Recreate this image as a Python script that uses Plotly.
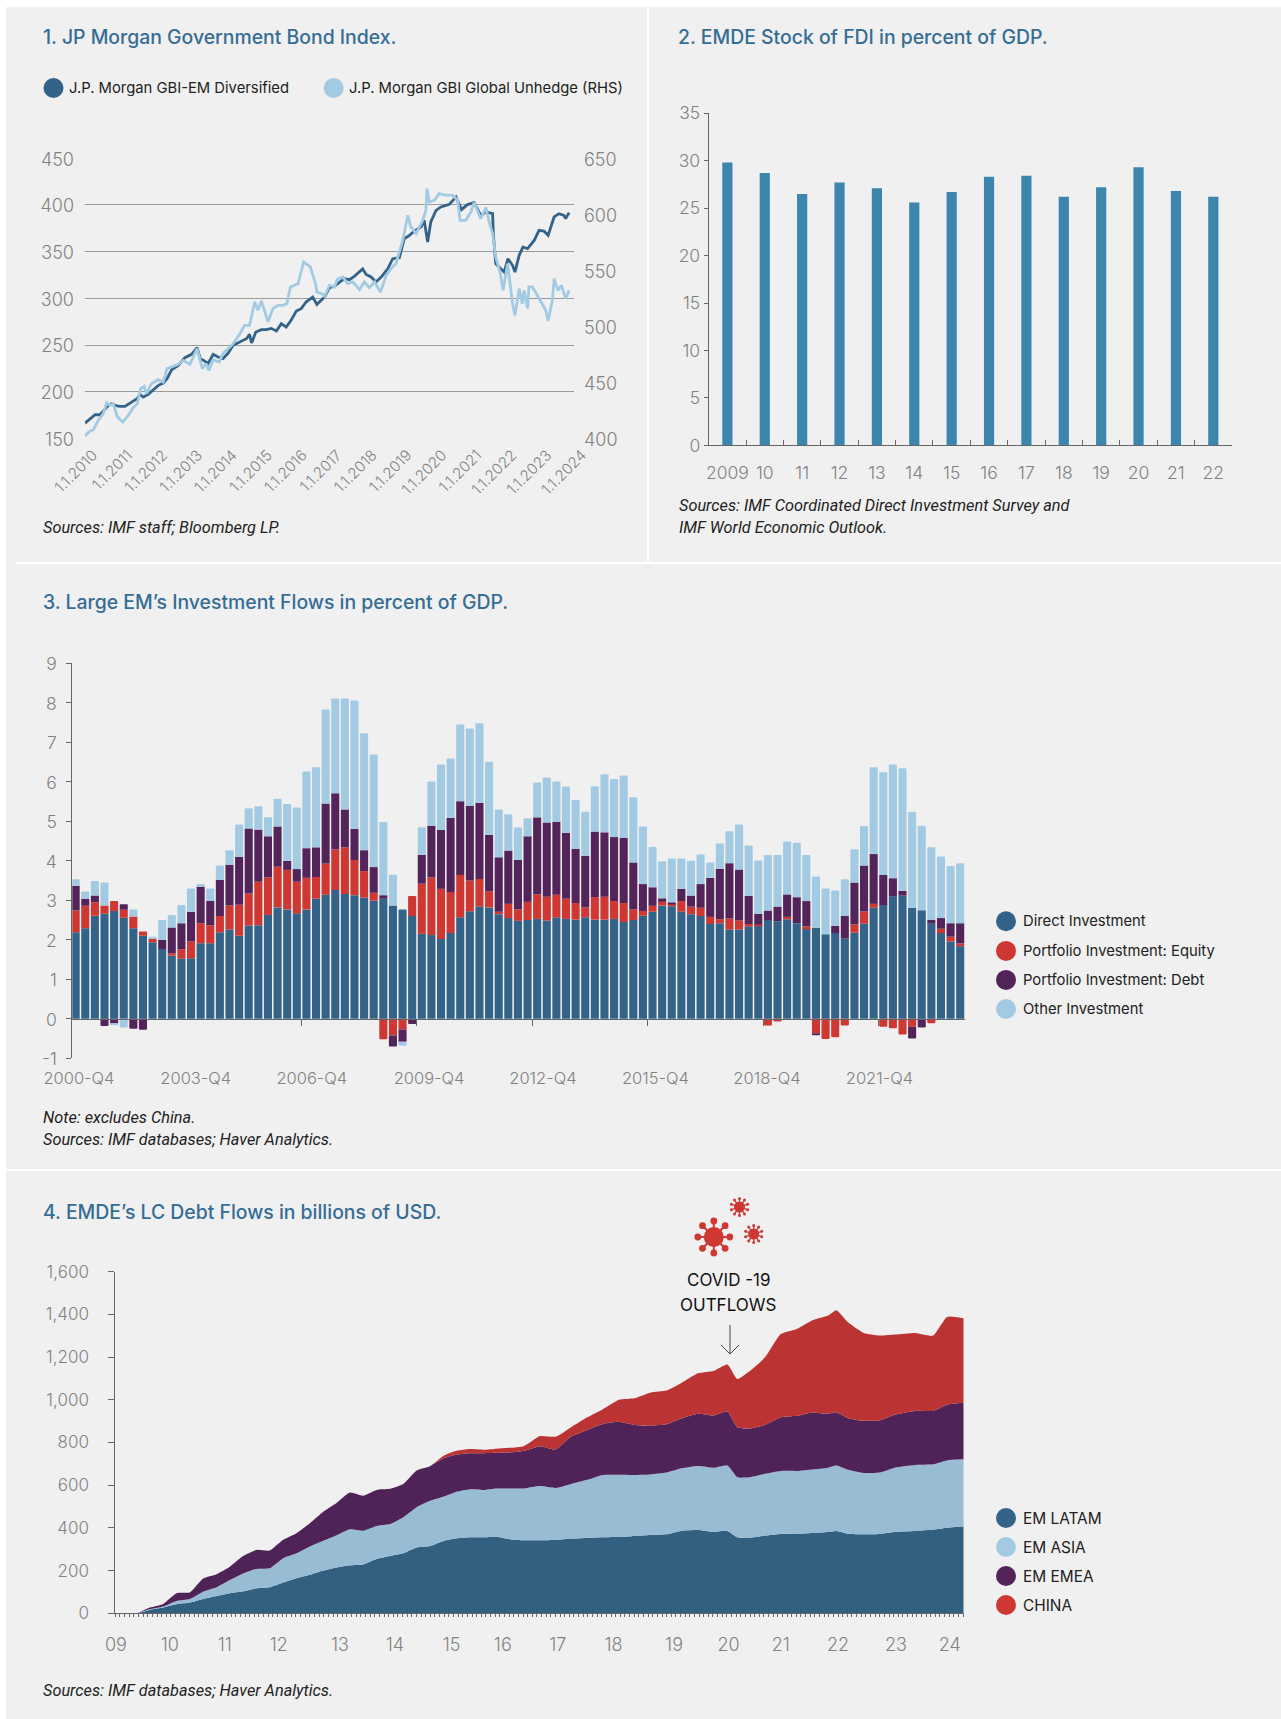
import math
import plotly.graph_objects as go

W, H = 1281, 1719

# ---------- Chart 1 data ----------
gbi_em_years = [2010.00,2010.14,2010.29,2010.43,2010.57,2010.67,2010.76,2010.89,2011.00,2011.14,2011.29,2011.50,2011.57,2011.67,2011.81,2011.95,2012.10,2012.24,2012.35,2012.48,2012.67,2012.86,2013.05,2013.21,2013.30,2013.43,2013.52,2013.67,2013.81,2013.95,2014.10,2014.24,2014.43,2014.62,2014.71,2014.77,2014.89,2015.05,2015.19,2015.33,2015.48,2015.62,2015.76,2015.90,2016.05,2016.19,2016.33,2016.52,2016.64,2016.86,2017.00,2017.14,2017.29,2017.43,2017.57,2017.71,2017.95,2018.05,2018.19,2018.33,2018.48,2018.67,2018.81,2019.00,2019.14,2019.29,2019.43,2019.62,2019.71,2019.81,2019.90,2020.05,2020.19,2020.43,2020.62,2020.78,2020.95,2021.14,2021.33,2021.48,2021.67,2021.69,2021.76,2021.90,2022.00,2022.11,2022.24,2022.31,2022.43,2022.54,2022.67,2022.86,2023.00,2023.14,2023.26,2023.43,2023.57,2023.71,2023.76,2023.86]
gbi_em = [166.4,170.7,175.3,175.3,180.7,185.3,187.1,185,184.3,184.3,187.8,192.8,197.1,194.3,197.1,201.4,206.8,209.3,213.9,223.5,228.2,236.4,240,247.1,235.3,232.8,230,240,237.1,235.3,241.4,249.6,253.2,256.7,261.4,252.1,263.9,266.4,266.4,267.8,265,272.8,269.2,276.4,286.4,288.9,296,301.4,293.5,301.4,311.4,312.8,317.4,321,319.9,323.5,331.4,325.6,322.8,317.4,322.8,331.7,342.4,343.5,363.8,367.4,372,376.3,383.5,360.3,381.7,394.2,397.8,400.6,408.5,394.9,400.3,402.4,388.8,392.4,390.6,369.2,337.1,331.7,328.1,342.4,335.3,328.1,346,354.9,353.1,362,372.8,372,367.4,387.1,390.6,388.8,385.3,391.7]
gbi_gl_years = [2010.00,2010.10,2010.24,2010.38,2010.52,2010.62,2010.71,2010.81,2010.92,2011.08,2011.24,2011.38,2011.50,2011.59,2011.69,2011.76,2011.90,2012.10,2012.24,2012.35,2012.48,2012.67,2012.81,2013.00,2013.21,2013.36,2013.46,2013.55,2013.67,2013.84,2013.95,2014.24,2014.43,2014.57,2014.71,2014.86,2014.95,2015.05,2015.24,2015.38,2015.52,2015.67,2015.78,2015.88,2016.10,2016.26,2016.45,2016.60,2016.64,2016.81,2016.86,2017.00,2017.14,2017.22,2017.38,2017.52,2017.67,2017.86,2018.00,2018.14,2018.29,2018.46,2018.62,2018.76,2018.90,2019.10,2019.24,2019.33,2019.48,2019.67,2019.76,2019.79,2019.86,2020.00,2020.14,2020.33,2020.52,2020.67,2020.74,2020.90,2021.05,2021.14,2021.33,2021.48,2021.57,2021.67,2021.76,2021.89,2021.97,2022.10,2022.24,2022.31,2022.43,2022.52,2022.57,2022.67,2022.71,2022.81,2022.95,2023.05,2023.19,2023.26,2023.38,2023.43,2023.54,2023.64,2023.76,2023.86]
gbi_gl = [401.8,405.7,407.7,416.1,422,431.8,429.5,431,419.6,414.6,420.5,427.4,431,444.3,446.4,439.9,448.8,452.4,450.3,462.2,463.7,466.1,469.6,466.1,480.1,462.2,466.7,460.7,470.2,468.2,475.6,484.5,492.9,500.9,500.9,521.7,514.3,522.6,503.9,515.8,518.7,518.7,520.2,535.1,538.1,557.4,553,538.1,530.6,528.6,526.8,536.6,535.1,541.7,544,538.1,539.6,532.7,539.6,534.5,539.6,530.6,545.5,551.5,555.9,576.8,599.1,588.7,582.7,594.6,603.6,622.9,611,612.5,618.4,617,617,612.5,594.6,594.6,602.1,610.4,596.1,605.9,593.1,582.7,561.9,547,532.1,555.9,520.2,509.8,533.6,520.2,532.1,515.8,535.1,535.1,527.7,521.7,514.3,504.8,523.2,542.6,532.1,536.6,524.7,532.1]
year_ticks = [2010 + i for i in range(15)]
year_labels = ["1.1.%d" % y for y in year_ticks]

# ---------- Chart 2 data ----------
fdi_years = ["2009","10","11","12","13","14","15","16","17","18","19","20","21","22"]
fdi_stock = [29.8,28.7,26.5,27.7,27.1,25.6,26.7,28.3,28.4,26.2,27.2,29.3,26.8,26.2]

# ---------- Chart 3 data ----------
quarter_index = list(range(93))
q_tick_pos = [0.34,12.49,24.56,36.76,48.6,60.3,71.9,83.6]
q_tick_labels = ["2000-Q4","2003-Q4","2006-Q4","2009-Q4","2012-Q4","2015-Q4","2018-Q4","2021-Q4"]
q_tick_marks = [23.5,35.5,47.5,59.5,71.5,83.5]
flow_ticks = [-1,0,1,2,3,4,5,6,7,8,9]
flow_tick_labels = ["-1","0","1","2","3","4","5","6","7","8","9"]
direct = [2.19,2.29,2.61,2.66,2.73,2.56,2.29,2.10,1.94,1.77,1.60,1.52,1.53,1.91,1.91,2.19,2.26,2.10,2.36,2.37,2.63,2.82,2.77,2.67,2.77,3.04,3.14,3.26,3.16,3.13,3.07,2.99,3.04,2.87,2.77,2.60,2.15,2.12,2.02,2.17,2.57,2.72,2.84,2.82,2.65,2.55,2.48,2.50,2.53,2.49,2.57,2.53,2.51,2.57,2.51,2.51,2.53,2.45,2.50,2.61,2.71,2.87,2.85,2.71,2.65,2.60,2.40,2.42,2.26,2.26,2.34,2.36,2.50,2.47,2.52,2.42,2.29,2.30,2.14,2.17,2.03,2.18,2.41,2.81,2.88,3.10,3.12,2.81,2.75,2.41,2.17,1.96,1.84]
equity = [.55,.57,.34,.21,.25,.20,.30,.11,.08,0,.06,.24,.43,.51,.46,.41,.61,.79,.81,1.10,.95,1.03,1.00,.80,.80,.55,.79,1.03,1.18,.89,.67,.20,-.52,-.42,-.27,.51,1.27,1.46,1.27,1.04,1.07,.78,.70,.41,.06,.36,.29,.46,.62,.60,.57,.51,.42,.25,.57,.58,.45,.48,.27,.12,.15,.09,.06,.27,.19,.21,.18,.10,.28,.23,.06,.02,-.17,-.07,.06,0,.05,-.37,-.51,-.47,-.17,.21,.31,.10,-.20,-.24,-.40,-.20,0,-.11,.11,.12,.07]
debt = [.63,.18,.17,-.18,-.12,.14,-.25,-.28,0,.23,.65,.66,.75,.92,.61,.92,1.03,1.21,1.65,1.32,1.04,1.02,.23,.32,.75,.75,1.52,1.42,.96,.79,.53,.65,.09,-.28,-.31,-.13,.73,1.31,1.49,1.88,1.87,1.89,1.93,1.43,1.38,1.35,1.25,1.66,1.95,1.88,1.85,1.67,1.37,1.31,1.66,1.63,1.62,1.65,1.19,.68,.47,.09,.04,.31,.28,.60,.99,1.28,1.40,1.29,.71,.28,.24,.37,.57,.66,.64,-.04,0,.18,.58,1.06,1.16,1.26,.76,.46,.12,-.30,-.22,.10,.27,.34,.51]
other = [.16,.18,.37,.58,-.04,-.22,.18,0,.06,.50,.32,.46,.59,.07,.32,.36,.37,.82,.51,.59,.48,.70,1.44,1.56,1.94,2.03,2.38,2.40,2.81,3.25,2.96,2.85,1.85,.78,-.10,0,.70,1.12,1.66,1.50,1.94,1.96,2.01,1.85,1.21,.92,.82,.46,.88,1.14,1.02,1.17,1.24,1.11,1.15,1.47,1.47,1.58,1.65,1.46,1.02,.94,1.11,.77,.88,.75,.39,.64,.81,1.14,1.28,1.35,1.41,1.31,1.34,1.38,1.17,1.30,1.16,.90,.92,.84,1.00,2.20,2.60,2.88,3.10,2.43,2.14,1.83,1.56,1.45,1.52]

# ---------- Chart 4 data ----------
lc_time = [2009.00,2009.38,2009.62,2009.86,2010.10,2010.34,2010.58,2010.82,2011.06,2011.30,2011.54,2011.78,2012.02,2012.26,2012.50,2012.74,2012.98,2013.22,2013.46,2013.70,2013.94,2014.18,2014.42,2014.66,2014.90,2015.14,2015.38,2015.62,2015.86,2016.10,2016.35,2016.64,2016.92,2017.20,2017.49,2017.77,2018.06,2018.34,2018.63,2018.91,2019.19,2019.48,2019.76,2020.01,2020.19,2020.40,2020.69,2020.97,2021.26,2021.54,2021.82,2021.97,2022.18,2022.46,2022.75,2023.03,2023.39,2023.71,2023.96,2024.26]
lc_latam = [0,0,16,27,42,50,67,81,94,103,117,122,144,164,180,200,215,225,229,254,268,281,308,315,339,351,356,356,359,347,342,342,343,350,353,356,357,362,367,370,387,390,381,386,356,353,364,372,372,376,381,386,373,370,372,382,386,392,401,406]
lc_asia = [0,0,3,5,16,17,34,41,62,84,91,89,114,117,133,140,151,169,158,155,150,169,189,212,207,218,225,222,226,237,243,254,244,256,272,292,292,286,283,289,292,300,301,306,281,284,290,295,295,298,301,306,299,287,287,301,309,306,315,315]
lc_emea = [0,0,8,12,36,31,62,61,62,81,89,83,86,94,109,136,151,172,164,169,165,156,172,162,180,175,169,172,167,169,176,187,181,222,234,239,248,234,229,226,234,245,245,253,234,228,229,251,258,267,253,250,242,245,245,248,253,250,261,265]
lc_china = [0,0,0,0,0,0,0,0,0,0,0,0,0,0,0,0,0,0,0,0,0,0,0,0,11,17,19,16,19,22,22,47,59,44,59,69,103,125,155,158,167,189,208,220,226,267,317,390,407,432,460,478,449,411,397,375,365,353,411,396]
lc_tick_pos = [2009.01,2009.98,2010.97,2011.94,2013.04,2014.03,2015.05,2015.97,2016.96,2017.96,2019.05,2020.03,2020.97,2022.0,2023.04,2024.01]
lc_tick_labels = ["09","10","11","12","13","14","15","16","17","18","19","20","21","22","23","24"]

# ---------- Styles ----------
BG = "#f0f0f0"
DARK = "#336388"
LIGHT = "#a2cbe3"
PURPLE = "#53245a"
RED = "#cf3733"
AREA_DARK = "#326081"
AREA_LIGHT = "#98bcd4"
AREA_PURPLE = "#4f2357"
AREA_RED = "#bc3333"
FDI = "#3c86ae"
TITLE = "#356d95"
TICK = "#828282"
AXIS = "#666666"
GRID = "#9c9c9c"
TXT = "#222222"
F_TITLE = "Inter"
F_TICK = "Inter"
F_TEXT = "Inter"
F_NOTE = "Roboto"


def X(px):
    return px / W


def Y(py):
    return 1 - py / H


def dom_x(a, b):
    return [a / W, b / W]


def dom_y(top, bottom):
    return [1 - bottom / H, 1 - top / H]


def tick_font(size):
    return dict(family=F_TICK, size=size, color=TICK, weight=300)


fig = go.Figure()
annotations = []
shapes = []


def text(px, py, s, size=14, color=TXT, family=F_TEXT, anchor="left", weight=None):
    f = dict(family=family, size=size, color=color)
    if weight:
        f["weight"] = weight
    annotations.append(dict(xref="paper", yref="paper", x=X(px - 2 if anchor == "left" else px), y=Y(py), text=s,
                            showarrow=False, xanchor=anchor, yanchor="middle", font=f, align=anchor))


def rect(x0, y0, x1, y1, color):
    shapes.append(dict(type="rect", xref="paper", yref="paper", x0=X(x0), x1=X(x1), y0=Y(y0), y1=Y(y1),
                       fillcolor=color, line_width=0, layer="below"))


def dot(cx, cy, r, color):
    shapes.append(dict(type="circle", xref="paper", yref="paper", x0=X(cx - r), x1=X(cx + r),
                       y0=Y(cy + r), y1=Y(cy - r), fillcolor=color, line_width=0, layer="above"))


def line(x0, y0, x1, y1, color, width):
    shapes.append(dict(type="line", xref="paper", yref="paper", x0=X(x0), x1=X(x1), y0=Y(y0), y1=Y(y1),
                       line=dict(color=color, width=width), layer="above"))


def virus(cx, cy, body, reach, ball, n, width):
    dot(cx, cy, body, RED)
    for k in range(n):
        a = 2 * math.pi * k / n + math.pi / 2
        ex, ey = cx + reach * math.cos(a), cy + reach * math.sin(a)
        line(cx, cy, ex, ey, RED, width)
        dot(ex, ey, ball, RED)


# Panels
rect(6, 7, W, H, BG)
rect(647, 7, 649, 563, "#ffffff")
rect(17, 562, W, 564, "#ffffff")
rect(6, 1169, W, 1171, "#ffffff")

# ---------- Chart 1 ----------
fig.add_trace(go.Scatter(x=gbi_em_years, y=gbi_em, mode="lines", name="J.P. Morgan GBI-EM Diversified",
                         line=dict(color=DARK, width=2.8), xaxis="x", yaxis="y", showlegend=False))
fig.add_trace(go.Scatter(x=gbi_gl_years, y=gbi_gl, mode="lines", name="J.P. Morgan GBI Global Unhedge (RHS)",
                         line=dict(color=LIGHT, width=2.8), xaxis="x", yaxis="y2", showlegend=False))

# ---------- Chart 2 ----------
fig.add_trace(go.Bar(x=fdi_years, y=fdi_stock, width=0.273, marker=dict(color=FDI, line_width=0),
                     xaxis="x2", yaxis="y3", showlegend=False, name="EMDE Stock of FDI"))

# ---------- Chart 3 ----------
for name, vals, col in [("Direct Investment", direct, DARK), ("Portfolio Investment: Equity", equity, RED),
                        ("Portfolio Investment: Debt", debt, PURPLE), ("Other Investment", other, LIGHT)]:
    fig.add_trace(go.Bar(x=quarter_index, y=vals, width=0.84, name=name, xaxis="x3", yaxis="y4", showlegend=False,
                         marker=dict(color=col, line_width=0, cornerradius=1)))
fig.add_trace(go.Scatter(x=[0], y=[0], mode="none", xaxis="x5", yaxis="y4", showlegend=False, hoverinfo="skip"))

# ---------- Chart 4 ----------
for name, vals, col in [("EM LATAM", lc_latam, AREA_DARK), ("EM ASIA", lc_asia, AREA_LIGHT),
                        ("EM EMEA", lc_emea, AREA_PURPLE), ("CHINA", lc_china, AREA_RED)]:
    fig.add_trace(go.Scatter(x=lc_time, y=vals, mode="lines", name=name, stackgroup="lc", fillcolor=col,
                             line=dict(width=0, color=col, shape="spline", smoothing=0.5),
                             xaxis="x4", yaxis="y5", showlegend=False))

layout = dict(
    template="none",
    width=W, height=H, autosize=False, margin=dict(l=0, r=0, t=0, b=0, pad=0),
    paper_bgcolor="#ffffff", plot_bgcolor="rgba(0,0,0,0)", barmode="relative", showlegend=False,
    # chart 1
    xaxis=dict(domain=dom_x(85, 574), range=[2010, 2024], tickmode="array", tickvals=year_ticks, ticktext=year_labels,
               tickangle=-45, tickfont=tick_font(15), showgrid=False,
               zeroline=False, showline=False, ticks="", anchor="y", ticklabelshift=8, ticklabelstandoff=4, automargin=False),
    yaxis=dict(domain=dom_y(158.2, 438.4), range=[150, 450], tickmode="array", tickvals=[150,200,250,300,350,400,450],
               tickfont=tick_font(18), showgrid=True, gridcolor=GRID, gridwidth=1, zeroline=False, showline=False,
               ticks="", anchor="x", ticklabelstandoff=10, ticklabelshift=1, automargin=False),
    yaxis2=dict(domain=dom_y(158.2, 438.4), range=[400, 650], overlaying="y", side="right", anchor="x", tickmode="array",
                tickvals=[400,450,500,550,600,650], tickfont=tick_font(18), showgrid=False, zeroline=False, showline=False,
                ticks="", ticklabelstandoff=9, ticklabelshift=1, automargin=False),
    # chart 2
    xaxis2=dict(domain=dom_x(708.7, 1232), type="category", anchor="y3", tickson="boundaries", ticks="inside", ticklen=5,
                tickcolor=AXIS, tickwidth=1, tickangle=0, tickfont=tick_font(17.5), showline=True, linecolor=AXIS, linewidth=1.3,
                showgrid=False, zeroline=False, ticklabelstandoff=11, tickmode="linear", dtick=1, automargin=False),
    yaxis3=dict(domain=dom_y(113.2, 445.4), range=[0, 35], dtick=5, anchor="x2", ticks="outside", ticklen=4, tickcolor=AXIS,
                tickfont=tick_font(17.5), showline=True, linecolor=AXIS, linewidth=1, showgrid=False, zeroline=False,
                ticklabelstandoff=0, automargin=False),
    # chart 3
    xaxis3=dict(domain=dom_x(72.3, 965), range=[-0.35, 92.5], anchor="y4", tickmode="array", tickvals=q_tick_pos,
                ticktext=q_tick_labels, tickfont=tick_font(16.5), ticks="",
                showline=False, showgrid=False, zeroline=False, ticklabelstandoff=8, tickangle=0, automargin=False),
    xaxis5=dict(domain=dom_x(72.3, 965), range=[-0.35, 92.5], overlaying="x3", anchor="free", position=Y(1019),
                side="bottom", tickmode="array", tickvals=q_tick_marks, showticklabels=False, ticks="outside", ticklen=6,
                tickcolor=AXIS, showline=True, linecolor=AXIS, linewidth=1.2, showgrid=False, zeroline=False, automargin=False),
    yaxis4=dict(domain=dom_y(663.3, 1058.3), range=[-1, 9], tickmode="array", tickvals=flow_ticks, ticktext=flow_tick_labels,
                anchor="x3", ticks="outside", ticklen=5, tickcolor=AXIS,
                tickfont=tick_font(17.5), showline=True, linecolor=AXIS, linewidth=1, showgrid=False, zeroline=False,
                ticklabelstandoff=6, ticklabelshift=1, automargin=False),
    # chart 4
    xaxis4=dict(domain=dom_x(115.3, 963.7), range=[2009, 2024.26], anchor="y5", tickmode="array", tickvals=lc_tick_pos,
                ticktext=lc_tick_labels, tickfont=tick_font(18), ticks="", showline=True, linecolor=AXIS, linewidth=1,
                showgrid=False, zeroline=False, ticklabelstandoff=15, tickangle=0, automargin=False,
                minor=dict(ticks="outside", ticklen=3, tickcolor=AXIS, tickwidth=1, tick0=2009, dtick=1/12)),
    yaxis5=dict(domain=dom_y(1271.7, 1613.3), range=[0, 1600], dtick=200, anchor="x4", ticks="outside", ticklen=6,
                tickcolor=AXIS, tickformat=",", tickfont=tick_font(17), showline=True, linecolor=AXIS, linewidth=1,
                showgrid=False, zeroline=False, ticklabelstandoff=16, automargin=False),
)

# Titles
title_kw = dict(size=19.4, color=TITLE, family=F_TITLE, weight=500)
text(43, 36.8, "1. JP Morgan Government Bond Index.", **title_kw)
text(677.6, 36.8, "2. EMDE Stock of FDI in percent of GDP.", **title_kw)
text(43, 602, "3. Large EM’s Investment Flows in percent of GDP.", **title_kw)
text(43, 1212, "4. EMDE’s LC Debt Flows in billions of USD.", **title_kw)

# Notes
note_kw = dict(size=16.3, color=TXT, family=F_NOTE)
text(43, 527.9, "<i>Sources: IMF staff; Bloomberg LP.</i>", **note_kw)
text(678.8, 505.7, "<i>Sources: IMF Coordinated Direct Investment Survey and</i>", **note_kw)
text(678.8, 527.5, "<i>IMF World Economic Outlook.</i>", **note_kw)
text(43, 1117.6, "<i>Note: excludes China.</i>", **note_kw)
text(43, 1139.5, "<i>Sources: IMF databases; Haver Analytics.</i>", **note_kw)
text(43, 1690, "<i>Sources: IMF databases; Haver Analytics.</i>", **note_kw)

# Legends
dot(53.5, 88, 10, DARK)
text(69.2, 88, "J.P. Morgan GBI-EM Diversified", size=14.8)
dot(333.7, 88, 10, LIGHT)
text(349, 88, "J.P. Morgan GBI Global Unhedge (RHS)", size=14.8)

for ly, name, col in [(921.3, "Direct Investment", DARK), (950.9, "Portfolio Investment: Equity", RED),
                      (979.9, "Portfolio Investment: Debt", PURPLE), (1009, "Other Investment", LIGHT)]:
    dot(1006, ly, 10, col)
    text(1023, ly, name, size=14.8)

for ly, name, col in [(1518, "EM LATAM", DARK), (1547, "EM ASIA", LIGHT), (1576, "EM EMEA", PURPLE), (1605, "CHINA", RED)]:
    dot(1006, ly, 10, col)
    text(1023, ly, name, size=15.4)

# COVID call-out
text(728.4, 1280, "COVID -19", size=17, color="#111111", anchor="center")
text(728.4, 1305, "OUTFLOWS", size=17, color="#111111", anchor="center")
ax, ay0, ay1 = 730, 1325, 1354
shapes.append(dict(type="path", xref="paper", yref="paper",
                   path=f"M {X(ax)} {Y(ay0)} L {X(ax)} {Y(ay1)} M {X(ax-9)} {Y(ay1-9)} L {X(ax)} {Y(ay1)} L {X(ax+9)} {Y(ay1-9)}",
                   line=dict(color="#444444", width=1), layer="above"))
virus(713.8, 1237, 10, 16, 3.4, 8, 2)
virus(739.5, 1207, 5.5, 8.5, 1.5, 10, 1.3)
virus(753.7, 1234, 5.5, 8.5, 1.5, 10, 1.3)

layout["annotations"] = annotations
layout["shapes"] = shapes
fig.update_layout(**layout)
fig.write_html("out.html", post_script="document.body.style.margin='0';", config=dict(displayModeBar=False))
